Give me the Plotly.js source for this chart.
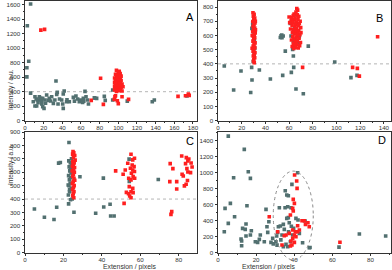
<!DOCTYPE html>
<html><head><meta charset="utf-8">
<script src="https://cdn.plot.ly/plotly-3.0.1.min.js"></script>
<style>html,body{margin:0;padding:0;background:#fff}#chart{width:392px;height:270px}</style>
</head><body><div id="chart"></div>
<script>
// ---- data: [extension (pixels), intensity (a.u.)] ----
const aGray = [[6,1610],[2.5,1310],[4,820],[2,730],[2,605],[6,380],
 [10.7,331],[10.7,202],[12.5,202],[13.2,285],[15.4,331],[16,285],[17.9,262],[19,193],[20.4,170],[16.8,308],[19,308],[21.4,285],[23.2,354],[26,308],[27.5,271],[28.6,331],[30.4,239],[33.2,547],[34,363],[34.6,391],[32,285],[35.4,230],[39.3,285],[40.4,230],[41,170],[42,409],[41,368],[44.6,262],[47.5,262],[51.8,322],[54.6,340],[56.4,299],[58.2,262],[59.6,285],[61.8,253],[62.5,308],[64.3,405],[65.4,331],[67,285],[68,230],[74.3,317],[76.8,308],[8.9,262],
 [14,250],[18,230],[22,240],[12,300],[25,280],[37,300],[45,290],[53,270],[63,270],
 [75,310],[85,335],[86,280],[94,424],[94,285],[109.6,270],[136.4,262],[138.6,285],[173.6,340]];
const aRed = [[17,1250],[21,1260],[81,585],[71,280],[84,225],[164,335],[172,345],[175,368],[176,350],[95.7,294],[97,345],[99,276],[100,235],[104,331],[111,294],[96.4,331],[105,469],
 [98,694],[101,680],[100,665],[102,650],[97,640],[99,630],[101,625],[103,615],[98,605],[100,598],[96,590],[102,585],[99,575],[101,565],[97,560],[103,555],[100,548],[98,540],[102,535],[96,528],[99,520],[101,512],[104,505],[97,500],[100,495],[98,488],[102,482],[96,475],[99,470],[101,462],[103,455],[97,450],[100,445],[98,438],[102,432],[96,425],[99,420],[101,415],[104,410],[98,405],[100,580],[99,600],[102,610],[97,520]];

const bGray = [[5.3,385],[13.2,216],[19.4,350],[27.6,199],[28.4,375],[28.7,286],[34.9,357],[44.2,293],[54.6,319],[56.8,490],[61.9,340],[63.9,375],[63.6,455],[63,502],[65.8,223],[72,190],[76.2,525],[98.5,413],[112.2,303],[117.3,319],
 [29.3,673],[29.8,603],[29.8,415],[30.4,462],[31,509],[30.7,568],[29.3,690],[28.6,650],
 [53.2,598],[54,584],[55,596],[52.6,586],[53.8,603],
 [61,685],[61.6,596],[63,697],[64.4,650],[65.3,744],[65.8,544],[67.2,549],[63.6,556],[68.6,591],[65.8,615],[64.4,572],[62,700],[66,680]];
const bRed = [[29.5,760],[30.5,748],[29.8,735],[31,722],[30.2,710],[29.4,698],[31.2,688],[30.4,676],[29.6,665],[31,652],[30.1,640],[29.3,628],[31.4,618],[30.6,606],[29.8,595],[31,584],[30.2,572],[29.5,560],[31.3,548],[30.4,537],[29.7,525],[31.1,514],[30.3,502],[29.6,490],[31.2,478],[30.5,466],[29.8,455],[31,443],[30.2,432],[29.9,420],[30.6,408],[31.5,700],[31.6,640],[28.8,510],[28.9,600],
 [66.5,790],[67.2,778],[65.8,765],[64.2,750],[66.9,745],[63.5,740],[68.2,735],[60,730],[62.3,728],[65,722],[67.5,715],[64.4,710],[61.8,705],[69.3,700],[66.1,695],[63.2,690],[68.6,684],[65.3,678],[62.5,672],[67.8,668],[64.9,660],[69.8,655],[66.3,650],[61.2,645],[63.9,640],[68.1,635],[65.6,628],[62.8,622],[67.4,616],[64.5,610],[69.1,605],[66.8,598],[63.1,592],[65.9,586],[68.4,580],[64.1,574],[62,568],[67,562],[65.3,556],[69.6,550],[63.6,544],[66.4,538],[64.8,532],[68.9,527],[62.6,522],[65.5,516],[67.7,512],[64,508],[70,620],[60.5,690],
 [71.4,375],[113.6,375],[117.6,368],[119.3,314],[134.7,591]];

const cGray = [[4.9,326],[10.1,264],[15.1,247],[16.5,339],[17.5,668],[18.4,673],[22.7,364],[22.9,822],[25.5,302],[28.6,566],[36.8,294],[40.8,556],[41,341],[44.3,361],[44.6,274],[46.4,274],[54.2,698],[54.3,531],[69.4,546],
 [22.6,430],[23.2,470],[22.9,500],[23.5,520],[23.1,545],[23.8,560],[22.7,575],[24,595],[23.3,610],[23.9,625],[23,640],[24.4,655],[23.6,670],[22.8,685],[24.2,700],[24.6,400],[23.7,395],[24.1,480],[23.2,455],[24.8,590],[22.5,505],[24.5,625]];
const cRed = [[25,755],[25.4,745],[24.8,735],[25.9,725],[25.2,710],[26.1,690],[24.9,680],[25.6,670],[25.1,655],[24.7,645],[25.8,635],[25.3,620],[24.6,610],[25.7,600],[25.2,585],[24.9,570],[25.5,555],[25.9,540],[25.1,530],[24.7,515],[25.6,500],[25.2,485],[24.8,470],[25.5,455],[25.1,440],[24.9,425],[25.4,410],
 [47.2,610],[51.6,368],
 [55.2,734],[57,704],[56.1,692],[53.5,667],[55.8,654],[56.8,642],[54.9,630],[56.1,617],[52.2,617],[57,605],[55.4,592],[51.1,585],[56.3,567],[54,555],[57.1,555],[55.2,543],[54.3,493],[56.1,480],[52.8,450],[55.2,455],[53.9,440],[54.5,423],[55.2,410],[56.3,448],
 [81.6,721],[84,709],[85.3,699],[84.8,685],[86.5,669],[75.6,664],[83.6,664],[87,639],[77,627],[84.3,627],[81.8,585],[84.8,602],[86.2,597],[75.4,530],[79,530],[82.4,572],[83,498],[83.9,510],[79,475],[84.6,538],[76.4,306],[76,286]];

const dGray = [[5.4,1458],[13.8,1292],[3.7,554],[6.5,617],[3.3,262],[5.4,367],[8.2,937],[8.7,450],[15.9,1012],[17,929],[15.2,587],[12.9,304],[14.3,292],[14.7,358],[12.1,171],[12.4,146],[12.4,87],[14.7,208],[17.5,275],[17,221],[19.6,137],[20.8,129],[21.7,167],[22.2,221],[24.3,137],[25.2,542],[26.1,254],[26.7,387],[25.7,325],[27.8,129],[28.7,179],[30.4,137],[31.3,254],[32.2,562],[31.7,325],[32.7,333],[33.6,221],[34.3,354],[34.8,292],[35.3,775],[36.1,721],[36.9,712],[36.6,575],[36.1,429],[36.9,438],[37.4,375],[38.3,562],[38.8,854],[41.8,1000],[39.2,221],[38,137],[35.7,104],[34.3,75],[36.6,75],[39.7,304],[40.9,429],[42,408],[42.7,242],[44.4,125],[45.7,396],[47.9,62],[35.2,562],[30.8,208],[74.2,234],[88,209],[63.5,70],[48.3,65],[37,260],[33,160],[29,110],[31,95],[38.5,330]];
const dRed = [[40.2,971],[41.3,896],[41.5,804],[39.5,667],[40.1,617],[39.2,554],[39.5,521],[38,471],[26.9,450],[44.1,400],[45.3,400],[47.2,375],[47.9,325],[45.9,354],[41.8,337],[31.3,262],[34.8,212],[35.7,221],[37.4,242],[39.2,283],[40.6,262],[40.1,221],[39.2,179],[40.9,200],[38.3,146],[40.1,129],[38.8,96],[33.6,96],[38,83],[41.8,262],[42.7,283],[64,130]];

const panelLetters = ['A','B','C','D'];
const thresholdY = 400;
const ellipseD = {x0: 29, x1: 50, y0: -90, y1: 1020};
const xTitle = 'Extension / pixels';
const yTitle = 'Intensity / a.u.';

// ---- layout geometry ----
const W = 392, H = 270;
const GRAY = '#527070', RED = '#ff1f1f';
const px = v => v / W, py = v => 1 - v / H;
const dom = {
  A: {x: [px(25), px(196.5)], y: [py(120.7), py(0.5)], xr: [0, 183.8], yr: [0, 1658], dy: 200},
  B: {x: [px(218), px(391)], y: [py(120.7), py(0.5)], xr: [0, 146], yr: [0, 846], dy: 100},
  C: {x: [px(25), px(196.5)], y: [py(252.7), py(132)], xr: [0, 89.3], yr: [0, 900], dy: 100},
  D: {x: [px(218), px(391)], y: [py(252.7), py(132)], xr: [0, 90.8], yr: [0, 1509], dy: 200}
};
const FONT = 'Liberation Sans, Arial, sans-serif';

function axis(domain, range, dtick, anchor, isX) {
  return {domain, range, dtick, anchor, showgrid: false, zeroline: false, showline: true, mirror: true,
    linecolor: '#333', linewidth: 1, ticks: 'outside', ticklen: isX ? 2 : 2.5, tickwidth: 1, tickcolor: '#333',
    ticklabelstandoff: isX ? -1 : 0,
    tickfont: {size: 6.2, color: '#333', family: FONT},
    minor: {ticks: 'outside', ticklen: 1.5, dtick: dtick / 2, tickcolor: '#333'}, fixedrange: true};
}
function tr(pts, color, xa, ya) {
  return {type: 'scatter', mode: 'markers', x: pts.map(p => p[0]), y: pts.map(p => p[1]),
    xaxis: xa, yaxis: ya, hoverinfo: 'skip',
    marker: {symbol: 'square', size: 3.6, color, line: {width: 0}}};
}
const data = [
  tr(aGray, GRAY, 'x', 'y'), tr(aRed, RED, 'x', 'y'),
  tr(bGray, GRAY, 'x2', 'y2'), tr(bRed, RED, 'x2', 'y2'),
  tr(cGray, GRAY, 'x3', 'y3'), tr(cRed, RED, 'x3', 'y3'),
  tr(dGray, GRAY, 'x4', 'y4'), tr(dRed, RED, 'x4', 'y4')
];
function toPaperX(p, v) { const d = dom[p]; return d.x[0] + (v - d.xr[0]) / (d.xr[1] - d.xr[0]) * (d.x[1] - d.x[0]); }
function toPaperY(p, v) { const d = dom[p]; return d.y[0] + (v - d.yr[0]) / (d.yr[1] - d.yr[0]) * (d.y[1] - d.y[0]); }

const hline = (xa, ya) => ({type: 'line', xref: xa + ' domain', x0: 0, x1: 1, yref: ya, y0: thresholdY, y1: thresholdY,
  line: {color: '#b5b5b5', width: 1, dash: 'dot'}, layer: 'below'});

const layout = {
  width: W, height: H, margin: {l: 0, r: 0, t: 0, b: 0}, showlegend: false,
  paper_bgcolor: '#fff', plot_bgcolor: '#fff', font: {family: FONT},
  xaxis: axis(dom.A.x, dom.A.xr, 20, 'y', true), yaxis: axis(dom.A.y, dom.A.yr, dom.A.dy, 'x'),
  xaxis2: axis(dom.B.x, dom.B.xr, 20, 'y2', true), yaxis2: axis(dom.B.y, dom.B.yr, dom.B.dy, 'x2'),
  xaxis3: axis(dom.C.x, dom.C.xr, 20, 'y3', true), yaxis3: axis(dom.C.y, dom.C.yr, dom.C.dy, 'x3'),
  xaxis4: axis(dom.D.x, dom.D.xr, 20, 'y4', true), yaxis4: axis(dom.D.y, dom.D.yr, dom.D.dy, 'x4'),
  shapes: [hline('x', 'y'), hline('x2', 'y2'), hline('x3', 'y3'),
    {type: 'circle', xref: 'paper', yref: 'paper',
     x0: toPaperX('D', ellipseD.x0), x1: toPaperX('D', ellipseD.x1),
     y0: toPaperY('D', ellipseD.y0), y1: toPaperY('D', ellipseD.y1),
     line: {color: '#8a8a8a', width: 1, dash: 'dot'}}],
  annotations: [
    {text: panelLetters[0], x: px(190), y: py(9), xref: 'paper', yref: 'paper', showarrow: false, font: {size: 11, color: '#000'}},
    {text: panelLetters[1], x: px(384.5), y: py(10), xref: 'paper', yref: 'paper', showarrow: false, font: {size: 11, color: '#000'}},
    {text: panelLetters[2], x: px(190), y: py(141), xref: 'paper', yref: 'paper', showarrow: false, font: {size: 11, color: '#000'}},
    {text: panelLetters[3], x: px(388), y: py(140), xref: 'paper', yref: 'paper', showarrow: false, font: {size: 11, color: '#000'}},
    {text: yTitle, x: px(5), y: py(67.5), xref: 'paper', yref: 'paper', showarrow: false, textangle: -90, font: {size: 6.5, color: '#333'}},
    {text: yTitle, x: px(5), y: py(187.5), xref: 'paper', yref: 'paper', showarrow: false, textangle: -90, font: {size: 6.5, color: '#333'}},
    {text: xTitle, x: px(102), y: 0, yanchor: 'bottom', yshift: -1.5, borderpad: 0, xref: 'paper', yref: 'paper', showarrow: false, font: {size: 6.8, color: '#333'}},
    {text: xTitle, x: px(296), y: 0, yanchor: 'bottom', yshift: -1.5, borderpad: 0, xref: 'paper', yref: 'paper', showarrow: false, font: {size: 6.8, color: '#333'}}
  ]
};
Plotly.newPlot('chart', data, layout, {displayModeBar: false, staticPlot: true});
</script>
</body></html>
